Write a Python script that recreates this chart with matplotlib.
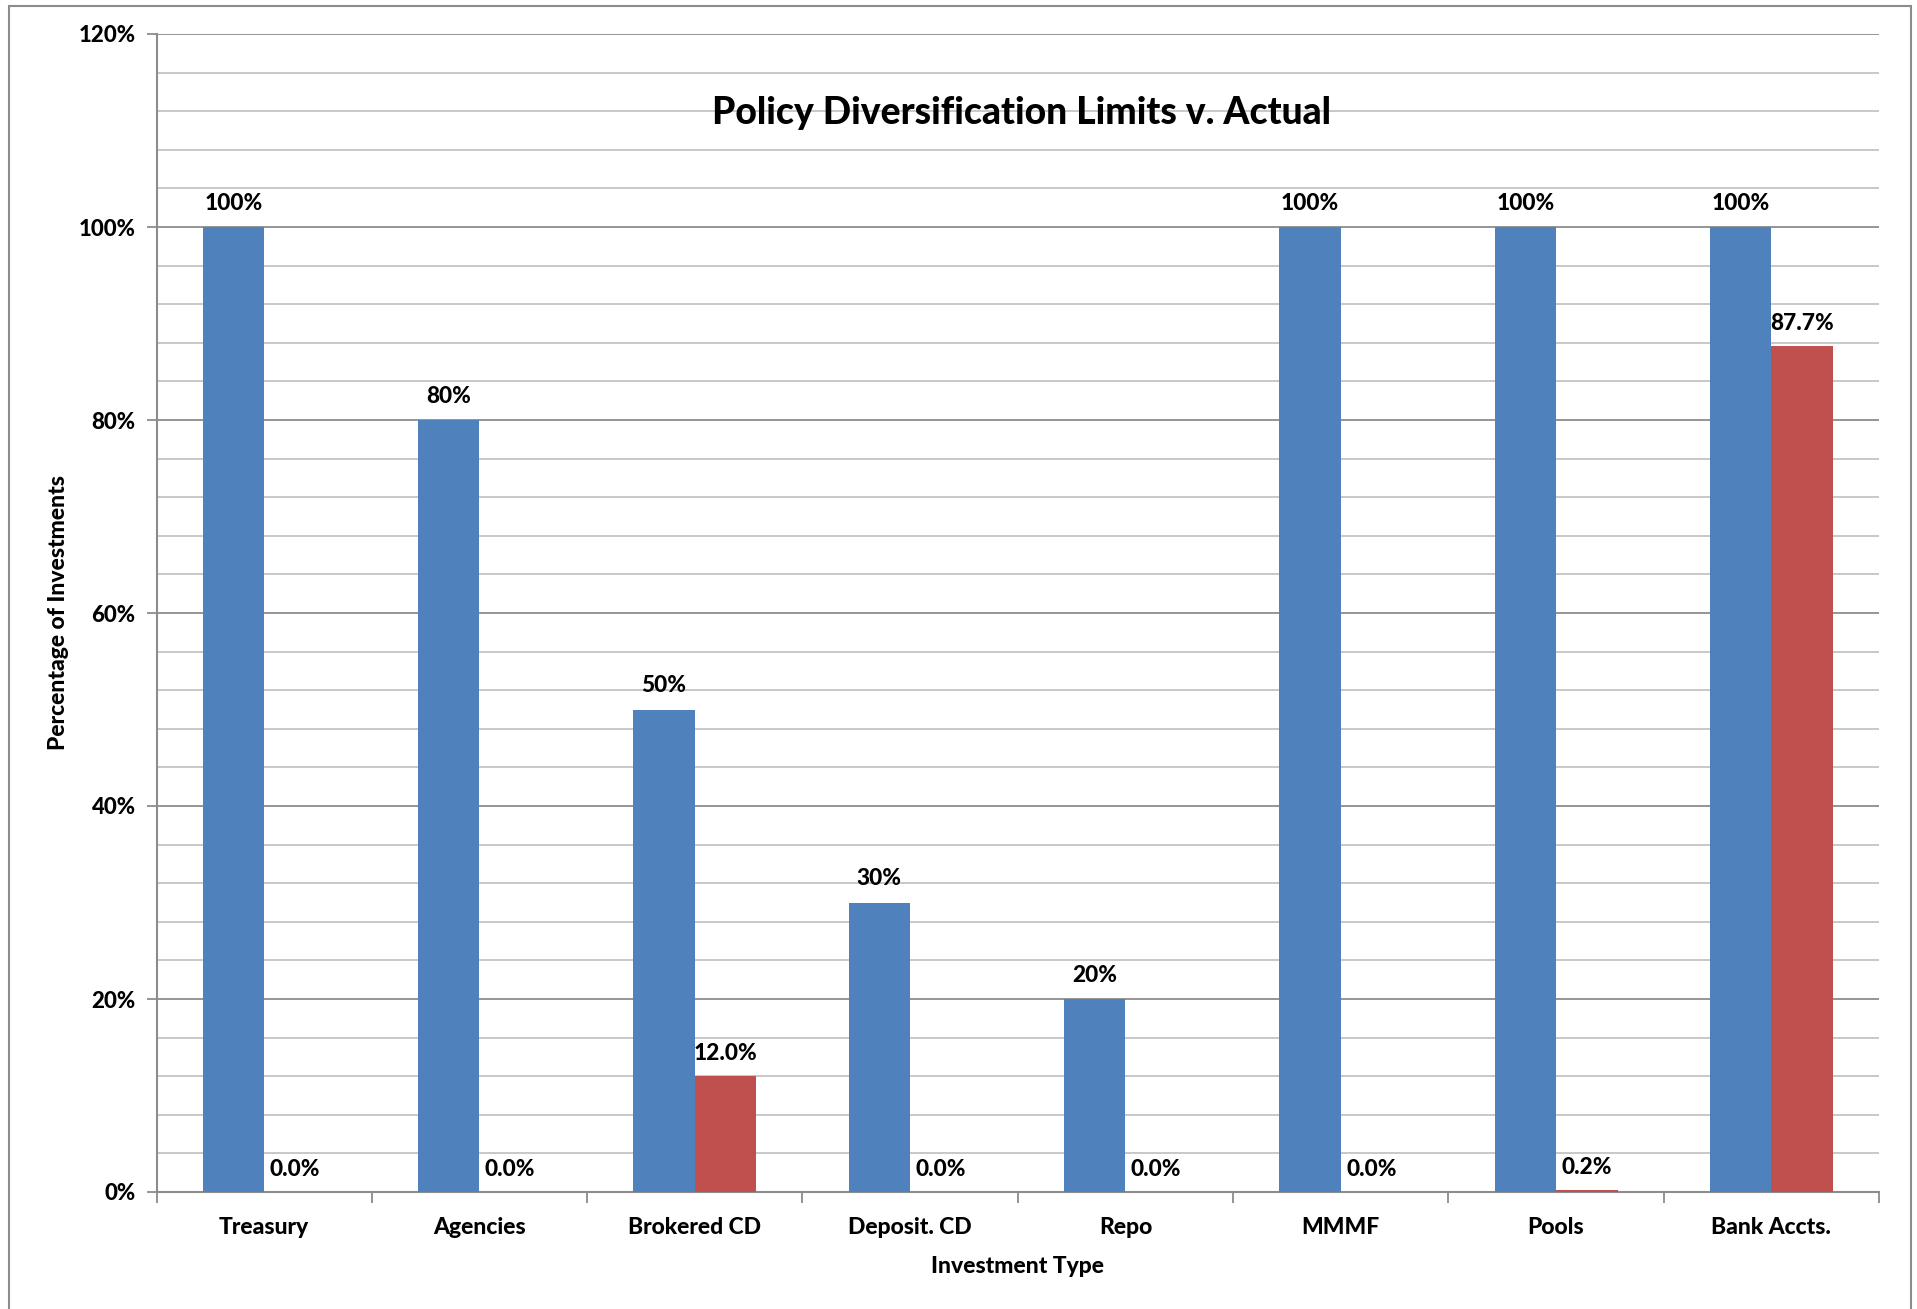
import matplotlib
matplotlib.use("Agg")
import matplotlib.pyplot as plt
from matplotlib.patches import Rectangle
from matplotlib.ticker import MultipleLocator, FuncFormatter
import numpy as np

categories = ["Treasury", "Agencies", "Brokered CD", "Deposit. CD", "Repo",
              "MMMF", "Pools", "Bank Accts."]
policy_limit = [100, 80, 50, 30, 20, 100, 100, 100]
actual = [0.0, 0.0, 12.0, 0.0, 0.0, 0.0, 0.2, 87.7]

plt.rcParams['font.family'] = ['Lato', 'DejaVu Sans']
WT = 900
plt.rcParams['font.weight'] = WT

W, H = 1917, 1309
fig = plt.figure(figsize=(W / 100, H / 100), dpi=100)
ax = fig.add_axes([156.5 / W, 1 - 1192 / H, (1879 - 156.5) / W, (1192 - 34) / H])

blue = "#4F81BD"
red = "#C0504D"
n = len(categories)
x = np.arange(n)
bw = 1 / 3.5

bars1 = ax.bar(x - bw / 2, policy_limit, bw, color=blue, zorder=3)
bars2 = ax.bar(x + bw / 2, actual, bw, color=red, zorder=3)

for b, v in zip(bars1, policy_limit):
    ax.annotate(f"{v:.0f}%", (b.get_x() + b.get_width() / 2, v), xytext=(0, 9.5),
                textcoords="offset points", ha="center", va="bottom",
                fontsize=16.3, fontweight=WT, zorder=4)
for b, v in zip(bars2, actual):
    ax.annotate(f"{v:.1f}%", (b.get_x() + b.get_width() / 2, v), xytext=(0, 8.5),
                textcoords="offset points", ha="center", va="bottom",
                fontsize=16.3, fontweight=WT, zorder=4)

ax.set_xlim(-0.5, n - 0.5)
ax.set_ylim(0, 120)

# gridlines: light every 4%, darker every 20%
ax.yaxis.set_major_locator(MultipleLocator(20))
ax.yaxis.set_minor_locator(MultipleLocator(4))
ax.yaxis.set_major_formatter(FuncFormatter(lambda v, p: f"{v:.0f}%"))
ax.grid(which="minor", axis="y", color="#c4c4c4", linewidth=1.3, zorder=1)
ax.grid(which="major", axis="y", color="#8c8c8c", linewidth=1.3, zorder=1)
ax.tick_params(axis="y", which="minor", length=0)
ax.tick_params(axis="y", which="major", length=7, width=1.3, color="#8c8c8c",
               labelsize=16, pad=8)

# category labels centered, tick marks at category boundaries
ax.set_xticks(x)
ax.set_xticklabels(categories, fontsize=16.5, fontweight=WT)
ax.set_xticks(np.arange(-0.5, n, 1), minor=True)
ax.tick_params(axis="x", which="major", length=0, pad=18)
ax.tick_params(axis="x", which="minor", length=8, width=1.3, color="#8c8c8c")

for s in ["top", "right"]:
    ax.spines[s].set_visible(False)
for s in ["left", "bottom"]:
    ax.spines[s].set_color("#8c8c8c")
    ax.spines[s].set_linewidth(1.5)

for lbl in ax.get_yticklabels():
    lbl.set_fontweight(WT)

ax.set_xlabel("Investment Type", fontsize=16.5, fontweight=WT, labelpad=13)
ax.set_ylabel("Percentage of Investments", fontsize=16.5, fontweight=WT, labelpad=7)

ax.text(0.502, 1 - (113 - 34) / (1192 - 34), "Policy Diversification Limits v. Actual",
        transform=ax.transAxes, ha="center", va="center", fontsize=26.8,
        fontweight=WT, zorder=5)

# outer chart border
fig.patches.append(Rectangle((8.5 / W, -0.05), (1911 - 8.5) / W, 1.05 - 6 / H,
                             transform=fig.transFigure, fill=False,
                             edgecolor="#8c8c8c", linewidth=1.5))

fig.savefig("out.png", dpi=100)
